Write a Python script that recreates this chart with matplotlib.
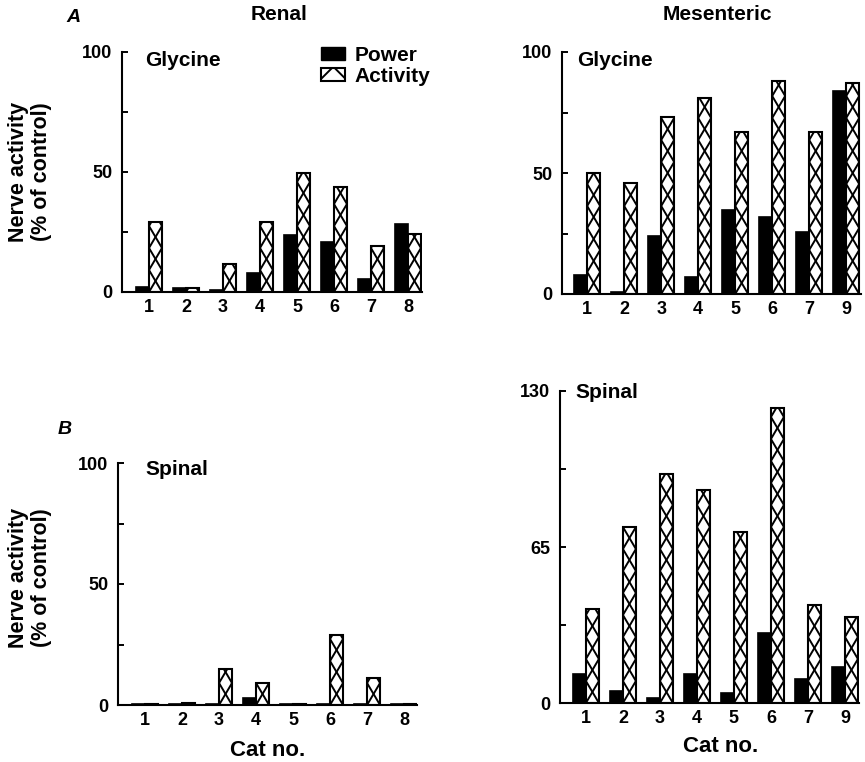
import matplotlib
matplotlib.use("Agg")
import matplotlib.pyplot as plt
from matplotlib.patches import Patch
import numpy as np

plt.rcParams['font.family'] = ['Liberation Sans', 'DejaVu Sans']
plt.rcParams['font.weight'] = 'bold'
plt.rcParams['hatch.linewidth'] = 1.4

# data (% of control)
renal_cats = ['1', '2', '3', '4', '5', '6', '7', '8']
mes_cats = ['1', '2', '3', '4', '5', '6', '7', '9']

renal_gly_power = [2, 1.5, 0.7, 7.8, 23.7, 20.7, 5.6, 28.5]
renal_gly_activity = [29, 1.5, 11.8, 29, 49.7, 43.7, 19.3, 24.3]
mes_gly_power = [8, 1, 24, 7, 34.7, 31.7, 25.7, 84]
mes_gly_activity = [50, 45.7, 73, 81, 66.8, 88, 66.8, 87]
renal_sp_power = [0.4, 0.6, 0.6, 3, 0.4, 0.6, 0.6, 0.6]
renal_sp_activity = [0.4, 0.8, 15, 9, 0.4, 29, 11, 0.6]
mes_sp_power = [12, 5, 2, 12, 4, 29, 10, 15]
mes_sp_activity = [39, 73.5, 95.5, 88.6, 71.1, 122.8, 40.8, 35.8]

W, H = 865, 762
fig = plt.figure(figsize=(W / 100, H / 100), dpi=100)


def px_axes(left, right, top, bottom):
    return fig.add_axes([left / W, 1 - bottom / H, (right - left) / W, (bottom - top) / H])


def ftext(x, y, s, **kw):
    return fig.text(x / W, 1 - y / H, s, **kw)


BW = 13 / 37  # bar width in group units


def cross_hatch(ax, bars, period_px=22, lw=1.4):
    # tall "X" pattern like the printed figure, clipped to each bar
    y0, y1 = ax.get_ylim()
    ppu = ax.get_position().height * H / (y1 - y0)
    p = period_px / ppu
    for r in bars:
        xa = r.get_x()
        xb = xa + r.get_width()
        n = int(np.ceil(r.get_height() / p))
        for k in range(n):
            for xs in ([xa, xb], [xb, xa]):
                ln, = ax.plot(xs, [k * p, (k + 1) * p], color='black', lw=lw,
                              solid_capstyle='butt')
                ln.set_clip_path(r)


def panel(ax, cats, power, activity, ymax, major, minor, xl, xr):
    x = np.arange(len(cats))
    ax.bar(x - BW / 2, power, BW, color='black', edgecolor='black', linewidth=1.2)
    act = ax.bar(x + BW / 2, activity, BW, color='white', edgecolor='black', linewidth=1.5)
    ax.set_xlim(xl, xr)
    ax.set_ylim(0, ymax)
    cross_hatch(ax, act)
    ax.set_xticks(x)
    ax.set_xticklabels(cats)
    ax.set_yticks(major)
    ax.set_yticks(minor, minor=True)
    ax.tick_params(axis='x', length=0, pad=5, labelsize=13)
    ax.tick_params(axis='y', which='both', direction='in', length=4, width=1.4, pad=7, labelsize=13)
    for s in ['top', 'right']:
        ax.spines[s].set_visible(False)
    for s in ['left', 'bottom']:
        ax.spines[s].set_linewidth(1.5)


ax1 = px_axes(122, 422, 52, 292)
panel(ax1, renal_cats, renal_gly_power, renal_gly_activity, 100, [0, 50, 100], [25, 75], -0.73, 7.38)
ax2 = px_axes(562, 861, 52, 294)
panel(ax2, mes_cats, mes_gly_power, mes_gly_activity, 100, [0, 50, 100], [25, 75], -0.68, 7.40)
ax3 = px_axes(118, 417, 463, 705)
panel(ax3, renal_cats, renal_sp_power, renal_sp_activity, 100, [0, 50, 100], [25, 75], -0.73, 7.35)
ax4 = px_axes(560, 859, 391, 703)
panel(ax4, mes_cats, mes_sp_power, mes_sp_activity, 130, [0, 65, 130], [32.5, 97.5], -0.70, 7.38)

# legend
handles = [Patch(facecolor='black', edgecolor='black', label='Power'),
           Patch(facecolor='white', edgecolor='black', hatch='x', linewidth=1.5, label='Activity')]
ax1.legend(handles=handles, loc='upper left', bbox_to_anchor=(321 / W, 1 - 46 / H),
           bbox_transform=fig.transFigure, frameon=False, fontsize=15, handlelength=1.15,
           handleheight=0.6, handletextpad=0.45, labelspacing=0.1, borderpad=0, borderaxespad=0)

# panel labels and titles
ftext(73, 17, 'A', style='italic', fontsize=14, ha='center', va='center')
ftext(65, 430, 'B', style='italic', fontsize=14, ha='center', va='center')
ftext(279, 15, 'Renal', fontsize=15, ha='center', va='center')
ftext(717, 15, 'Mesenteric', fontsize=15, ha='center', va='center')

ftext(145, 61, 'Glycine', fontsize=15, ha='left', va='center')
ftext(577, 61, 'Glycine', fontsize=15, ha='left', va='center')
ftext(145, 469, 'Spinal', fontsize=15, ha='left', va='center')
ftext(575, 393, 'Spinal', fontsize=15, ha='left', va='center')

for yc in (172, 578):
    ftext(30, yc, 'Nerve activity\n(% of control)', rotation=90, fontsize=15.5,
          ha='center', va='center', multialignment='center', linespacing=1.1)

ftext(268, 750, 'Cat no.', fontsize=16, ha='center', va='center')
ftext(721, 746, 'Cat no.', fontsize=16, ha='center', va='center')

fig.savefig('out.png', dpi=100)
plt.close(fig)
